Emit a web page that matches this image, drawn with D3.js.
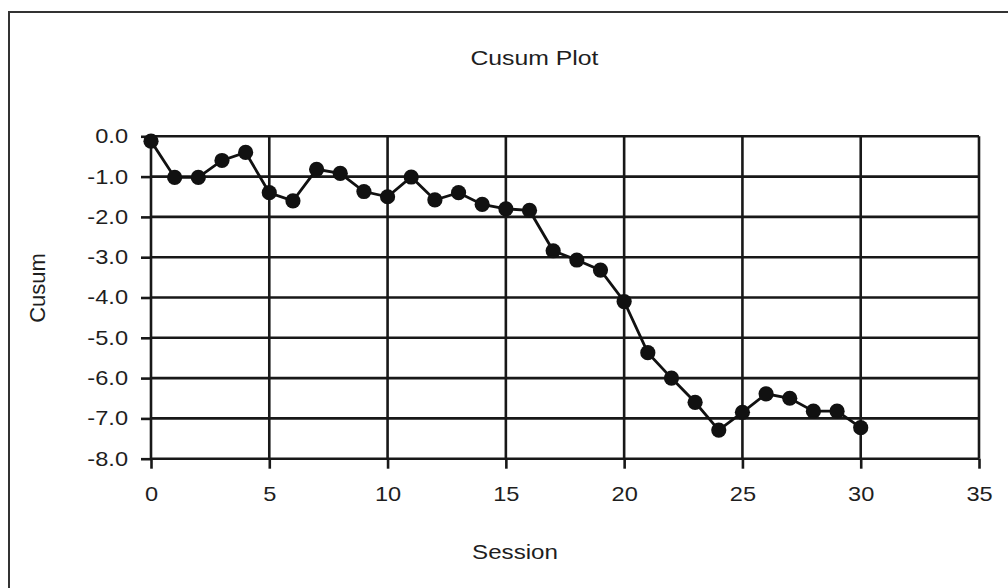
<!DOCTYPE html>
<html>
<head>
<meta charset="utf-8">
<script src="https://cdn.jsdelivr.net/npm/d3@7"></script>
<style>
  body { margin: 0; background: #fff; }
  svg { display: block; }
</style>
</head>
<body>
<div class="chart"></div>
<script>
const sessions = [0, 1, 2, 3, 4, 5, 6, 7, 8, 9, 10, 11, 12, 13, 14, 15,
  16, 17, 18, 19, 20, 21, 22, 23, 24, 25, 26, 27, 28, 29, 30];
const cusum = [-0.12, -1.02, -1.02, -0.6, -0.4, -1.4, -1.6, -0.82, -0.92, -1.37, -1.5,
  -1.01, -1.58, -1.4, -1.69, -1.8, -1.84, -2.84, -3.07, -3.32, -4.1,
  -5.37, -6.0, -6.6, -7.29, -6.85, -6.39, -6.5, -6.82, -6.82, -7.23];
const xTicks = [0, 5, 10, 15, 20, 25, 30, 35];
const yTicks = [0, -1, -2, -3, -4, -5, -6, -7, -8];

const W = 1008, H = 588;
const margin = {top: 136.3, right: 29, bottom: 129.3, left: 151};
const width = W - margin.left - margin.right;
const height = H - margin.top - margin.bottom;
const ink = "#181818";
const font = "'Liberation Sans', Arial, sans-serif";
const stretch = 1.18; // the source glyphs look a bit wide

const root = d3.select(".chart")
  .append("svg")
  .attr("width", W)
  .attr("height", H)
  .style("font-family", font);

// outer frame, runs off the right and bottom edges
root.append("rect")
  .attr("x", 9).attr("y", 12)
  .attr("width", W + 20).attr("height", H + 20)
  .attr("fill", "#fff")
  .attr("stroke", "#333")
  .attr("stroke-width", 2);

const svg = root.append("g")
  .attr("transform", `translate(${margin.left}, ${margin.top})`);

const x = d3.scaleLinear().domain([0, 35]).range([0, width]);
const y = d3.scaleLinear().domain([-8, 0]).range([height, 0]);

// grid
svg.append("g")
  .selectAll("line")
  .data(yTicks)
  .join("line")
  .attr("x1", 0).attr("x2", width)
  .attr("y1", d => y(d)).attr("y2", d => y(d))
  .attr("stroke", ink).attr("stroke-width", 2.6);

svg.append("g")
  .selectAll("line")
  .data(xTicks)
  .join("line")
  .attr("x1", d => x(d)).attr("x2", d => x(d))
  .attr("y1", 0).attr("y2", height)
  .attr("stroke", ink).attr("stroke-width", 2.6);

// axes
const yAxis = svg.append("g")
  .call(d3.axisLeft(y).tickValues(yTicks).tickSize(10).tickPadding(9.5)
    .tickFormat(d => d.toFixed(1)));

const xAxis = svg.append("g")
  .attr("transform", `translate(0, ${height})`)
  .call(d3.axisBottom(x).tickValues(xTicks).tickSize(10).tickPadding(18)
    .tickFormat(d3.format("d")));

[yAxis, xAxis].forEach(ax => {
  ax.select(".domain").remove();
  ax.selectAll("line").attr("stroke", ink).attr("stroke-width", 2.6);
  ax.selectAll("text")
    .attr("fill", "#1e1e1e")
    .style("font-size", "20px")
    .style("font-family", font)
    .attr("transform", `scale(${stretch}, 1)`);
});

// line + markers
const line = d3.line()
  .x((d, i) => x(sessions[i]))
  .y(d => y(d));

svg.append("path")
  .datum(cusum)
  .attr("d", line)
  .attr("fill", "none")
  .attr("stroke", "#111")
  .attr("stroke-width", 2.8);

svg.selectAll("circle.pt")
  .data(cusum)
  .join("circle")
  .attr("class", "pt")
  .attr("cx", (d, i) => x(sessions[i]))
  .attr("cy", d => y(d))
  .attr("r", 7.6)
  .attr("fill", "#111");

// titles
root.append("text")
  .attr("transform", `translate(534.4, 65) scale(${stretch}, 1)`)
  .attr("text-anchor", "middle")
  .attr("fill", "#1e1e1e")
  .style("font-size", "21px")
  .text("Cusum Plot");

root.append("text")
  .attr("transform", `translate(515, 559) scale(1.15, 1)`)
  .attr("text-anchor", "middle")
  .attr("fill", "#1e1e1e")
  .style("font-size", "21px")
  .text("Session");

root.append("text")
  .attr("transform", "translate(45, 288) rotate(-90)")
  .attr("text-anchor", "middle")
  .attr("fill", "#1e1e1e")
  .style("font-size", "22px")
  .text("Cusum");
</script>
</body>
</html>
